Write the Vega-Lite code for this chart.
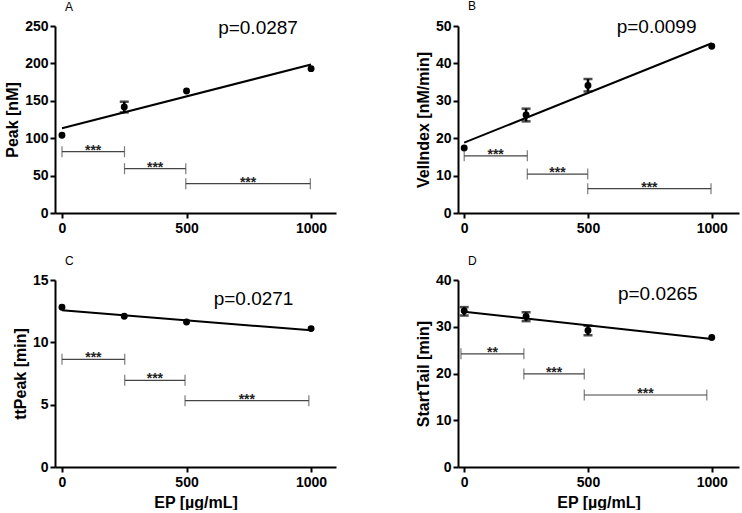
{
  "$schema": "https://vega.github.io/schema/vega-lite/v6.json",
  "padding": {"left": 4, "top": 0, "right": 2, "bottom": 0},
  "background": "white",
  "datasets": {
    "pts": [
      {"panel": "A", "x": 0, "y": 104}, {"panel": "A", "x": 250, "y": 141.7}, {"panel": "A", "x": 500, "y": 163}, {"panel": "A", "x": 1000, "y": 193},
      {"panel": "B", "x": 0, "y": 17.4}, {"panel": "B", "x": 250, "y": 26.2}, {"panel": "B", "x": 500, "y": 34.1}, {"panel": "B", "x": 1000, "y": 44.6},
      {"panel": "C", "x": 0, "y": 12.81}, {"panel": "C", "x": 250, "y": 12.09}, {"panel": "C", "x": 500, "y": 11.63}, {"panel": "C", "x": 1000, "y": 11.1},
      {"panel": "D", "x": 0, "y": 33.4}, {"panel": "D", "x": 250, "y": 32.2}, {"panel": "D", "x": 500, "y": 29.2}, {"panel": "D", "x": 1000, "y": 27.7}
    ],
    "err": [
      {"panel": "A", "x": 250, "y": 134.5, "hi": 148.8},
      {"panel": "B", "x": 250, "y": 24.5, "hi": 27.9}, {"panel": "B", "x": 500, "y": 32.5, "hi": 35.8},
      {"panel": "D", "x": 0, "y": 32.4, "hi": 34.2}, {"panel": "D", "x": 250, "y": 31.2, "hi": 33.1}, {"panel": "D", "x": 500, "y": 28.2, "hi": 30.2}
    ],
    "fit": [
      {"panel": "A", "x": 0, "y": 113.2}, {"panel": "A", "x": 1000, "y": 198.5},
      {"panel": "B", "x": 0, "y": 18.8}, {"panel": "B", "x": 1000, "y": 45.4},
      {"panel": "C", "x": 0, "y": 12.57}, {"panel": "C", "x": 1000, "y": 10.96},
      {"panel": "D", "x": 0, "y": 33.2}, {"panel": "D", "x": 1000, "y": 27.4}
    ],
    "br": [
      {"panel": "A", "x": 0, "xe": 251, "y": 82}, {"panel": "A", "x": 251, "xe": 497, "y": 59.3}, {"panel": "A", "x": 497, "xe": 997, "y": 39.2},
      {"panel": "B", "x": 0, "xe": 255, "y": 15.3}, {"panel": "B", "x": 255, "xe": 499, "y": 10.4}, {"panel": "B", "x": 499, "xe": 997, "y": 6.5},
      {"panel": "C", "x": 0, "xe": 252, "y": 8.64}, {"panel": "C", "x": 252, "xe": 494, "y": 6.95}, {"panel": "C", "x": 494, "xe": 991, "y": 5.32},
      {"panel": "D", "x": -13, "xe": 241, "y": 24.2}, {"panel": "D", "x": 241, "xe": 485, "y": 19.9}, {"panel": "D", "x": 485, "xe": 980, "y": 15.4}
    ],
    "caps": [
      {"panel": "A", "x": 0, "y": 82}, {"panel": "A", "x": 251, "y": 82}, {"panel": "A", "x": 251, "y": 59.3}, {"panel": "A", "x": 497, "y": 59.3}, {"panel": "A", "x": 497, "y": 39.2}, {"panel": "A", "x": 997, "y": 39.2},
      {"panel": "B", "x": 0, "y": 15.3}, {"panel": "B", "x": 255, "y": 15.3}, {"panel": "B", "x": 255, "y": 10.4}, {"panel": "B", "x": 499, "y": 10.4}, {"panel": "B", "x": 499, "y": 6.5}, {"panel": "B", "x": 997, "y": 6.5},
      {"panel": "C", "x": 0, "y": 8.64}, {"panel": "C", "x": 252, "y": 8.64}, {"panel": "C", "x": 252, "y": 6.95}, {"panel": "C", "x": 494, "y": 6.95}, {"panel": "C", "x": 494, "y": 5.32}, {"panel": "C", "x": 991, "y": 5.32},
      {"panel": "D", "x": -13, "y": 24.2}, {"panel": "D", "x": 241, "y": 24.2}, {"panel": "D", "x": 241, "y": 19.9}, {"panel": "D", "x": 485, "y": 19.9}, {"panel": "D", "x": 485, "y": 15.4}, {"panel": "D", "x": 980, "y": 15.4}
    ],
    "stars": [
      {"panel": "A", "x": 125, "y": 82, "label": "***"}, {"panel": "A", "x": 374, "y": 59.3, "label": "***"}, {"panel": "A", "x": 747, "y": 39.2, "label": "***"},
      {"panel": "B", "x": 127, "y": 15.3, "label": "***"}, {"panel": "B", "x": 377, "y": 10.4, "label": "***"}, {"panel": "B", "x": 748, "y": 6.5, "label": "***"},
      {"panel": "C", "x": 126, "y": 8.64, "label": "***"}, {"panel": "C", "x": 373, "y": 6.95, "label": "***"}, {"panel": "C", "x": 742, "y": 5.32, "label": "***"},
      {"panel": "D", "x": 114, "y": 24.2, "label": "**"}, {"panel": "D", "x": 363, "y": 19.9, "label": "***"}, {"panel": "D", "x": 732, "y": 15.4, "label": "***"}
    ],
    "ptext": [
      {"panel": "A", "x": 787, "y": 247, "label": "p=0.0287"},
      {"panel": "B", "x": 777, "y": 49.6, "label": "p=0.0099"},
      {"panel": "C", "x": 769, "y": 13.5, "label": "p=0.0271"},
      {"panel": "D", "x": 782, "y": 36.9, "label": "p=0.0265"}
    ]
  },
  "columns": 2,
  "spacing": {"row": 20, "column": 79},
  "concat": [
    {
      "width": 281, "height": 187,
      "title": "A",
      "encoding": {
        "x": {"field": "x", "type": "quantitative", "scale": {"domain": [-28, 1100], "nice": false, "zero": false}, "axis": {"values": [0, 500, 1000], "format": "d", "title": null}},
        "y": {"field": "y", "type": "quantitative", "scale": {"domain": [0, 250], "nice": false}, "axis": {"values": [0, 50, 100, 150, 200, 250], "title": "Peak [nM]"}}
      },
      "layer": [
        {"data": {"name": "fit"}, "transform": [{"filter": "datum.panel === 'A'"}], "mark": {"type": "line", "color": "black", "strokeWidth": 2}},
        {"data": {"name": "err"}, "transform": [{"filter": "datum.panel === 'A'"}], "mark": {"type": "errorbar", "color": "black", "thickness": 2.5, "ticks": {"size": 9, "thickness": 2.5}}, "encoding": {"y2": {"field": "hi"}}},
        {"data": {"name": "pts"}, "transform": [{"filter": "datum.panel === 'A'"}], "mark": {"type": "circle", "color": "black", "opacity": 1, "size": 48}},
        {"data": {"name": "br"}, "transform": [{"filter": "datum.panel === 'A'"}], "mark": {"type": "rule", "color": "#444444", "strokeWidth": 1.2}, "encoding": {"x2": {"field": "xe"}}},
        {"data": {"name": "caps"}, "transform": [{"filter": "datum.panel === 'A'"}], "mark": {"type": "tick", "orient": "vertical", "color": "#444444", "size": 11, "thickness": 1.2}},
        {"data": {"name": "stars"}, "transform": [{"filter": "datum.panel === 'A'"}], "mark": {"type": "text", "font": "Liberation Sans", "fontSize": 14, "fontWeight": "bold", "color": "#222222", "baseline": "alphabetic", "dy": 3}, "encoding": {"text": {"field": "label"}}},
        {"data": {"name": "ptext"}, "transform": [{"filter": "datum.panel === 'A'"}], "mark": {"type": "text", "font": "Liberation Sans", "fontSize": 19, "color": "black", "baseline": "middle"}, "encoding": {"text": {"field": "label"}}}
      ]
    },
    {
      "width": 281, "height": 187,
      "title": "B",
      "encoding": {
        "x": {"field": "x", "type": "quantitative", "scale": {"domain": [-25, 1110], "nice": false, "zero": false}, "axis": {"values": [0, 500, 1000], "format": "d", "title": null}},
        "y": {"field": "y", "type": "quantitative", "scale": {"domain": [0, 50], "nice": false}, "axis": {"values": [0, 10, 20, 30, 40, 50], "title": "VelIndex [nM/min]"}}
      },
      "layer": [
        {"data": {"name": "fit"}, "transform": [{"filter": "datum.panel === 'B'"}], "mark": {"type": "line", "color": "black", "strokeWidth": 2}},
        {"data": {"name": "err"}, "transform": [{"filter": "datum.panel === 'B'"}], "mark": {"type": "errorbar", "color": "black", "thickness": 2.5, "ticks": {"size": 9, "thickness": 2.5}}, "encoding": {"y2": {"field": "hi"}}},
        {"data": {"name": "pts"}, "transform": [{"filter": "datum.panel === 'B'"}], "mark": {"type": "circle", "color": "black", "opacity": 1, "size": 48}},
        {"data": {"name": "br"}, "transform": [{"filter": "datum.panel === 'B'"}], "mark": {"type": "rule", "color": "#444444", "strokeWidth": 1.2}, "encoding": {"x2": {"field": "xe"}}},
        {"data": {"name": "caps"}, "transform": [{"filter": "datum.panel === 'B'"}], "mark": {"type": "tick", "orient": "vertical", "color": "#444444", "size": 11, "thickness": 1.2}},
        {"data": {"name": "stars"}, "transform": [{"filter": "datum.panel === 'B'"}], "mark": {"type": "text", "font": "Liberation Sans", "fontSize": 14, "fontWeight": "bold", "color": "#222222", "baseline": "alphabetic", "dy": 3}, "encoding": {"text": {"field": "label"}}},
        {"data": {"name": "ptext"}, "transform": [{"filter": "datum.panel === 'B'"}], "mark": {"type": "text", "font": "Liberation Sans", "fontSize": 19, "color": "black", "baseline": "middle"}, "encoding": {"text": {"field": "label"}}}
      ]
    },
    {
      "width": 281, "height": 187,
      "title": "C",
      "encoding": {
        "x": {"field": "x", "type": "quantitative", "scale": {"domain": [-28, 1100], "nice": false, "zero": false}, "axis": {"values": [0, 500, 1000], "format": "d", "title": "EP [µg/mL]"}},
        "y": {"field": "y", "type": "quantitative", "scale": {"domain": [0, 15], "nice": false}, "axis": {"values": [0, 5, 10, 15], "title": "ttPeak [min]"}}
      },
      "layer": [
        {"data": {"name": "fit"}, "transform": [{"filter": "datum.panel === 'C'"}], "mark": {"type": "line", "color": "black", "strokeWidth": 2}},
        {"data": {"name": "pts"}, "transform": [{"filter": "datum.panel === 'C'"}], "mark": {"type": "circle", "color": "black", "opacity": 1, "size": 48}},
        {"data": {"name": "br"}, "transform": [{"filter": "datum.panel === 'C'"}], "mark": {"type": "rule", "color": "#444444", "strokeWidth": 1.2}, "encoding": {"x2": {"field": "xe"}}},
        {"data": {"name": "caps"}, "transform": [{"filter": "datum.panel === 'C'"}], "mark": {"type": "tick", "orient": "vertical", "color": "#444444", "size": 11, "thickness": 1.2}},
        {"data": {"name": "stars"}, "transform": [{"filter": "datum.panel === 'C'"}], "mark": {"type": "text", "font": "Liberation Sans", "fontSize": 14, "fontWeight": "bold", "color": "#222222", "baseline": "alphabetic", "dy": 3}, "encoding": {"text": {"field": "label"}}},
        {"data": {"name": "ptext"}, "transform": [{"filter": "datum.panel === 'C'"}], "mark": {"type": "text", "font": "Liberation Sans", "fontSize": 19, "color": "black", "baseline": "middle"}, "encoding": {"text": {"field": "label"}}}
      ]
    },
    {
      "width": 281, "height": 187,
      "title": "D",
      "encoding": {
        "x": {"field": "x", "type": "quantitative", "scale": {"domain": [-25, 1110], "nice": false, "zero": false}, "axis": {"values": [0, 500, 1000], "format": "d", "title": "EP [µg/mL]"}},
        "y": {"field": "y", "type": "quantitative", "scale": {"domain": [0, 40], "nice": false}, "axis": {"values": [0, 10, 20, 30, 40], "title": "StartTail [min]"}}
      },
      "layer": [
        {"data": {"name": "fit"}, "transform": [{"filter": "datum.panel === 'D'"}], "mark": {"type": "line", "color": "black", "strokeWidth": 2}},
        {"data": {"name": "err"}, "transform": [{"filter": "datum.panel === 'D'"}], "mark": {"type": "errorbar", "color": "black", "thickness": 2.5, "ticks": {"size": 9, "thickness": 2.5}}, "encoding": {"y2": {"field": "hi"}}},
        {"data": {"name": "pts"}, "transform": [{"filter": "datum.panel === 'D'"}], "mark": {"type": "circle", "color": "black", "opacity": 1, "size": 48}},
        {"data": {"name": "br"}, "transform": [{"filter": "datum.panel === 'D'"}], "mark": {"type": "rule", "color": "#444444", "strokeWidth": 1.2}, "encoding": {"x2": {"field": "xe"}}},
        {"data": {"name": "caps"}, "transform": [{"filter": "datum.panel === 'D'"}], "mark": {"type": "tick", "orient": "vertical", "color": "#444444", "size": 11, "thickness": 1.2}},
        {"data": {"name": "stars"}, "transform": [{"filter": "datum.panel === 'D'"}], "mark": {"type": "text", "font": "Liberation Sans", "fontSize": 14, "fontWeight": "bold", "color": "#222222", "baseline": "alphabetic", "dy": 3}, "encoding": {"text": {"field": "label"}}},
        {"data": {"name": "ptext"}, "transform": [{"filter": "datum.panel === 'D'"}], "mark": {"type": "text", "font": "Liberation Sans", "fontSize": 19, "color": "black", "baseline": "middle"}, "encoding": {"text": {"field": "label"}}}
      ]
    }
  ],
  "config": {
    "view": {"stroke": null},
    "font": "Liberation Sans",
    "title": {"font": "Liberation Sans", "fontSize": 12, "fontWeight": "normal", "color": "black", "anchor": "start", "frame": "group", "offset": 5, "dx": 10},
    "axis": {
      "grid": false,
      "domainColor": "black", "domainWidth": 2,
      "tickColor": "black", "tickWidth": 2, "tickSize": 5,
      "labelFont": "Liberation Sans", "labelFontWeight": "bold", "labelFontSize": 14, "labelColor": "black", "labelPadding": 2,
      "titleFont": "Liberation Sans", "titleFontWeight": "bold", "titleFontSize": 16, "titleColor": "black", "titlePadding": 4
    },
    "axisX": {"labelPadding": 3, "titlePadding": 5}
  }
}
